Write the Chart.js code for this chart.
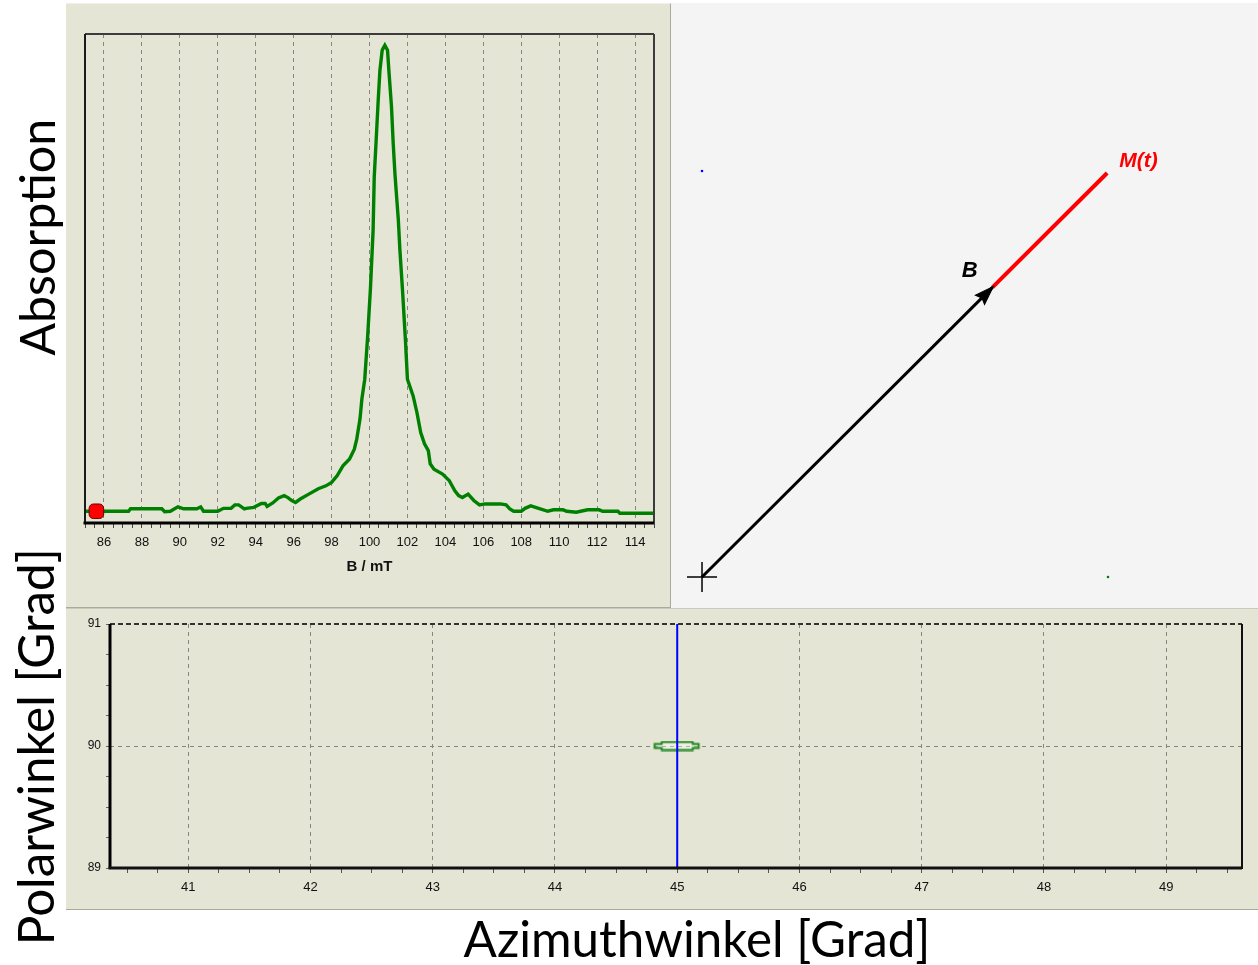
<!DOCTYPE html>
<html>
<head>
<meta charset="utf-8">
<script src="https://cdn.jsdelivr.net/npm/chart.js@4.4.0/dist/chart.umd.min.js"></script>
<style>
  html, body { margin:0; padding:0; background:#ffffff; width:1258px; height:965px; overflow:hidden; }
  body { position:relative; font-family:"Liberation Sans", Arial, sans-serif; }
  .panel { position:absolute; box-sizing:border-box; }
  #panelSpec { left:66px; top:3px; width:605px; height:605px; background:#e5e5d6; border-right:1px solid #a9a99d; border-bottom:1px solid #a9a99d; border-top:1px solid #f0f0ea; }
  #panelVec  { left:671px; top:3px; width:587px; height:606px; background:#f4f4f4; }
  #panelAng  { left:66px; top:608px; width:1192px; height:302px; background:#e5e5d6; border-top:1px solid #c9c9bd; border-bottom:1px solid #a9a99d; }
  canvas { position:absolute; }
  #cSpec { left:66px; top:3px; }
  #cVec  { left:671px; top:3px; }
  #cAng  { left:66px; top:609px; }
  .big { position:absolute; font-family:Lato, "Open Sans", sans-serif; color:#000; white-space:nowrap; line-height:1; }
</style>
</head>
<body>
<div class="panel" id="panelSpec"></div>
<div class="panel" id="panelVec"></div>
<div class="panel" id="panelAng"></div>
<canvas id="cSpec" width="604" height="604"></canvas>
<canvas id="cVec" width="587" height="606"></canvas>
<canvas id="cAng" width="1192" height="301"></canvas>
<div class="big" id="lblAbs">Absorption</div>
<div class="big" id="lblPol">Polarwinkel [Grad]</div>
<div class="big" id="lblAzi">Azimuthwinkel [Grad]</div>
<script>
// ================= DATA =================
// Absorption spectrum: magnetic field B (mT) and normalized absorption
const fieldB = [
  85.0, 85.6, 86.7, 87.3, 87.4, 89.05, 89.2, 89.5, 89.9, 90.2,
  90.9, 91.1, 91.25, 92.0, 92.3, 92.7, 92.9, 93.1, 93.4, 93.5,
  93.9, 94.3, 94.5, 94.6, 94.9, 95.2, 95.5, 95.7, 95.9, 96.1,
  96.35, 96.8, 97.3, 97.7, 98.0, 98.3, 98.6, 98.95, 99.2, 99.33,
  99.5, 99.6, 99.75, 99.9, 100.05, 100.19, 100.25, 100.37, 100.46, 100.55,
  100.67, 100.81, 100.95, 101.02, 101.16, 101.25, 101.34, 101.43, 101.52, 101.6,
  101.75, 101.9, 102.0, 102.3, 102.5, 102.7, 102.9, 103.1, 103.2, 103.4,
  103.85, 104.2, 104.5, 104.7, 104.9, 105.2, 105.5, 105.8, 106.1, 106.9,
  107.2, 107.4, 107.6, 108.0, 108.2, 108.5, 109.0, 109.4, 109.7, 110.2,
  110.4, 110.9, 111.5, 112.1, 112.3, 113.1, 113.2, 115.0
];
const absorption = [
  0.024, 0.024, 0.024, 0.024, 0.029, 0.029, 0.023, 0.024, 0.033, 0.029,
  0.029, 0.033, 0.024, 0.024, 0.030, 0.030, 0.037, 0.037, 0.029, 0.030,
  0.032, 0.040, 0.040, 0.034, 0.041, 0.051, 0.056, 0.052, 0.046, 0.042,
  0.049, 0.059, 0.070, 0.076, 0.083, 0.097, 0.117, 0.131, 0.151, 0.172,
  0.213, 0.254, 0.294, 0.380, 0.480, 0.599, 0.708, 0.797, 0.865, 0.926,
  0.967, 0.977, 0.967, 0.926, 0.851, 0.776, 0.715, 0.667, 0.620, 0.560,
  0.470, 0.370, 0.294, 0.260, 0.226, 0.185, 0.162, 0.148, 0.121, 0.110,
  0.100, 0.087, 0.066, 0.056, 0.052, 0.059, 0.046, 0.037, 0.039, 0.039,
  0.037, 0.029, 0.024, 0.024, 0.030, 0.035, 0.029, 0.024, 0.027, 0.027,
  0.024, 0.022, 0.027, 0.027, 0.024, 0.024, 0.020, 0.020
];
// current sweep position marker
const markerB = [85.6];
const markerAbs = [0.024];
// spectrum axis
const fieldRange = [85, 115];
const fieldLabelStep = 2;
const fieldMinorStep = 0.5;

// Vector view (projected, arbitrary units)
const vectorOrigin = [0, 0];
const vectorB = [0.716, 0.714];
const vectorM = [0.998, 0.995];
const refPointBlue = [0, 1];
const refPointGreen = [1, 0];

// Angle view
const azimuthCurrent = [45];
const polarCurrent = [90];
const azimuthRange = [40.36, 49.62];
const polarRange = [89, 91];
const angleMinorStep = 0.25;

// ================= PLUGINS =================
const framePlugin = {
  id: 'frame',
  afterDatasetsDraw(chart, args, opts) {
    if (!opts || !opts.sides) return;
    const { ctx, chartArea: a } = chart;
    ctx.save();
    opts.sides.forEach(s => {
      ctx.beginPath();
      ctx.strokeStyle = s.color;
      ctx.lineWidth = s.width;
      ctx.setLineDash(s.dash || []);
      if (s.side === 'top') { ctx.moveTo(a.left, a.top); ctx.lineTo(a.right, a.top); }
      if (s.side === 'bottom') { ctx.moveTo(a.left - s.width/2, a.bottom); ctx.lineTo(a.right, a.bottom); }
      if (s.side === 'left') { ctx.moveTo(a.left, a.top); ctx.lineTo(a.left, a.bottom); }
      if (s.side === 'right') { ctx.moveTo(a.right, a.top); ctx.lineTo(a.right, a.bottom + s.width/2); }
      ctx.stroke();
    });
    ctx.restore();
  }
};

const arrowPlugin = {
  id: 'arrowHead',
  afterDatasetsDraw(chart, args, opts) {
    if (!opts || opts.datasetIndex === undefined) return;
    const meta = chart.getDatasetMeta(opts.datasetIndex);
    const pts = meta.data;
    if (pts.length < 2) return;
    const p1 = pts[pts.length - 2], p2 = pts[pts.length - 1];
    const ang = Math.atan2(p2.y - p1.y, p2.x - p1.x);
    const L = opts.length, W = opts.width;
    const ctx = chart.ctx;
    ctx.save();
    ctx.translate(p2.x, p2.y);
    ctx.rotate(ang);
    ctx.beginPath();
    ctx.moveTo(1, 0);
    ctx.lineTo(-L, -W);
    ctx.lineTo(-L * 0.85, 0);
    ctx.lineTo(-L, W);
    ctx.closePath();
    ctx.fillStyle = opts.color;
    ctx.fill();
    ctx.lineWidth = 1;
    ctx.strokeStyle = opts.color;
    ctx.stroke();
    ctx.restore();
  }
};

const vecLabelPlugin = {
  id: 'vecLabels',
  afterDatasetsDraw(chart, args, opts) {
    if (!opts || !opts.items) return;
    const ctx = chart.ctx;
    const xs = chart.scales.x, ys = chart.scales.y;
    ctx.save();
    opts.items.forEach(it => {
      const px = xs.getPixelForValue(it.at[0]) + it.dx;
      const py = ys.getPixelForValue(it.at[1]) + it.dy;
      ctx.font = it.font;
      ctx.fillStyle = it.color;
      ctx.textAlign = it.align;
      ctx.textBaseline = 'middle';
      ctx.fillText(it.text, px, py);
    });
    ctx.restore();
  }
};

const near = (a, b) => Math.abs(a - b) < 1e-6;
const isMultiple = (v, step) => near(v / step, Math.round(v / step));

// ================= SPECTRUM CHART =================
new Chart(document.getElementById('cSpec'), {
  type: 'scatter',
  data: {
    datasets: [
      {
        data: markerB.map((b, i) => ({ x: b, y: markerAbs[i] })),
        showLine: false,
        pointStyle: 'rectRounded',
        pointRadius: 8.5,
        backgroundColor: '#ff0000',
        borderColor: '#6a0000',
        borderWidth: 1
      },
      {
        data: fieldB.map((b, i) => ({ x: b, y: absorption[i] })),
        showLine: true,
        borderColor: '#008000',
        borderWidth: 3.4,
        pointRadius: 0,
        tension: 0,
        fill: false
      }
    ]
  },
  options: {
    responsive: false,
    animation: false,
    devicePixelRatio: 1,
    layout: { autoPadding: false, padding: { left: 19, top: 31, right: 16, bottom: 0 } },
    plugins: {
      legend: { display: false },
      tooltip: { enabled: false },
      frame: { sides: [
        { side: 'top', color: '#3c3c3c', width: 2 },
        { side: 'right', color: '#3c3c3c', width: 2 },
        { side: 'left', color: '#1a1a1a', width: 2 },
        { side: 'bottom', color: '#000000', width: 3 }
      ] }
    },
    scales: {
      x: {
        type: 'linear',
        min: fieldRange[0], max: fieldRange[1],
        afterFit: s => { s.height = 84; },
        ticks: {
          stepSize: fieldMinorStep,
          autoSkip: false,
          maxRotation: 0,
          includeBounds: false,
          padding: 7,
          color: '#111',
          font: { family: '"Liberation Sans", Arial, sans-serif', size: 13 },
          callback: v => (isMultiple(v, fieldLabelStep) ? String(v) : '')
        },
        grid: {
          drawOnChartArea: true,
          color: ctx => (ctx.tick && isMultiple(ctx.tick.value, fieldLabelStep)) ? '#858585' : 'rgba(0,0,0,0)',
          lineWidth: 1,
          tickColor: '#444',
          tickLength: 5,
          tickWidth: 1,
          tickBorderDash: []
        },
        border: { display: false, dash: [4, 4] },
        title: {
          display: true,
          text: 'B / mT',
          color: '#111',
          font: { family: '"Liberation Sans", Arial, sans-serif', size: 15, weight: 'bold' },
          padding: { top: 0, bottom: 31 }
        }
      },
      y: { display: false, min: 0, max: 1 }
    }
  },
  plugins: [framePlugin]
});

// ================= VECTOR CHART =================
new Chart(document.getElementById('cVec'), {
  type: 'scatter',
  data: {
    datasets: [
      {
        data: [{ x: vectorOrigin[0], y: vectorOrigin[1] }, { x: vectorB[0], y: vectorB[1] }],
        showLine: true, borderColor: '#000000', borderWidth: 3, pointRadius: 0
      },
      {
        data: [{ x: vectorB[0], y: vectorB[1] }, { x: vectorM[0], y: vectorM[1] }],
        showLine: true, borderColor: '#ff0000', borderWidth: 4, pointRadius: 0
      },
      {
        data: [{ x: vectorOrigin[0], y: vectorOrigin[1] }],
        pointStyle: 'cross', pointRadius: 15, borderColor: '#000000', borderWidth: 1.5
      },
      {
        data: [{ x: refPointBlue[0], y: refPointBlue[1] }],
        pointStyle: 'rect', pointRadius: 1.6, backgroundColor: '#0000ff', borderColor: '#0000ff', borderWidth: 0
      },
      {
        data: [{ x: refPointGreen[0], y: refPointGreen[1] }],
        pointStyle: 'rect', pointRadius: 1.6, backgroundColor: '#008000', borderColor: '#008000', borderWidth: 0
      }
    ]
  },
  options: {
    responsive: false,
    animation: false,
    devicePixelRatio: 1,
    layout: { autoPadding: false, padding: 0 },
    plugins: {
      legend: { display: false },
      tooltip: { enabled: false },
      arrowHead: { datasetIndex: 0, length: 18, width: 6.5, color: '#000000' },
      vecLabels: { items: [
        { text: 'B', at: vectorB, dx: -23, dy: -16, align: 'center', color: '#000000', font: 'italic bold 22px "Liberation Sans", Arial, sans-serif' },
        { text: 'M(t)', at: vectorM, dx: 12, dy: -12, align: 'left', color: '#ff0000', font: 'italic bold 21px "Liberation Sans", Arial, sans-serif' }
      ] }
    },
    scales: {
      x: { type: 'linear', display: false, min: -0.0764, max: 1.3695 },
      y: { type: 'linear', display: false, min: -0.0788, max: 1.4138 }
    }
  },
  plugins: [arrowPlugin, vecLabelPlugin]
});

// ================= ANGLE CHART =================
const markerCanvas = (() => {
  const c = document.createElement('canvas');
  c.width = 48; c.height = 11;
  const g = c.getContext('2d');
  g.beginPath();
  g.moveTo(1.5, 3.5); g.lineTo(8.5, 3.5); g.lineTo(8.5, 1.5); g.lineTo(39.5, 1.5); g.lineTo(39.5, 3.5);
  g.lineTo(45.5, 3.5); g.lineTo(45.5, 7.5); g.lineTo(39.5, 7.5); g.lineTo(39.5, 9.5); g.lineTo(8.5, 9.5);
  g.lineTo(8.5, 7.5); g.lineTo(1.5, 7.5); g.closePath();
  g.fillStyle = 'rgba(255,255,255,0.35)';
  g.fill();
  g.strokeStyle = '#1a851a';
  g.lineWidth = 1.8;
  g.stroke();
  return c;
})();

new Chart(document.getElementById('cAng'), {
  type: 'scatter',
  data: {
    datasets: [
      {
        data: [{ x: azimuthCurrent[0], y: polarRange[0] }, { x: azimuthCurrent[0], y: polarRange[1] }],
        showLine: true, borderColor: '#0000ff', borderWidth: 2, pointRadius: 0
      },
      {
        data: azimuthCurrent.map((a, i) => ({ x: a, y: polarCurrent[i] })),
        pointStyle: markerCanvas, pointRadius: 5
      }
    ]
  },
  options: {
    responsive: false,
    animation: false,
    devicePixelRatio: 1,
    layout: { autoPadding: false, padding: { left: 0, top: 15, right: 16, bottom: 0 } },
    plugins: {
      legend: { display: false },
      tooltip: { enabled: false },
      frame: { sides: [
        { side: 'top', color: '#333333', width: 2, dash: [5, 3] },
        { side: 'right', color: '#111111', width: 2 },
        { side: 'left', color: '#000000', width: 3 },
        { side: 'bottom', color: '#111111', width: 3 }
      ] }
    },
    scales: {
      x: {
        type: 'linear',
        min: azimuthRange[0], max: azimuthRange[1],
        afterFit: s => { s.height = 42; },
        ticks: {
          stepSize: angleMinorStep,
          autoSkip: false,
          maxRotation: 0,
          includeBounds: false,
          padding: 7,
          color: '#111',
          font: { family: '"Liberation Sans", Arial, sans-serif', size: 13 },
          callback: v => (isMultiple(v, 1) ? String(v) : '')
        },
        grid: {
          color: ctx => (ctx.tick && isMultiple(ctx.tick.value, 1)) ? '#858585' : 'rgba(0,0,0,0)',
          lineWidth: 1,
          tickColor: '#555',
          tickLength: 5,
          tickWidth: 1,
          tickBorderDash: []
        },
        border: { display: false, dash: [4, 4] }
      },
      y: {
        type: 'linear',
        min: polarRange[0], max: polarRange[1],
        afterFit: s => { s.width = 44; },
        ticks: {
          stepSize: angleMinorStep,
          autoSkip: false,
          padding: 5,
          color: '#111',
          font: { family: '"Liberation Sans", Arial, sans-serif', size: 12 },
          callback: v => (isMultiple(v, 1) ? String(v) : '')
        },
        grid: {
          color: ctx => (ctx.tick && near(ctx.tick.value, polarCurrent[0])) ? '#858585' : 'rgba(0,0,0,0)',
          lineWidth: 1,
          tickColor: '#666',
          tickLength: 4,
          tickWidth: 1,
          tickBorderDash: []
        },
        border: { display: false, dash: [4, 4] }
      }
    }
  },
  plugins: [framePlugin]
});

// ================= BIG AXIS LABELS (fit to target widths) =================
function fitLabel(id, targetLen, cx, cy, rotate) {
  const el = document.getElementById(id);
  el.style.fontSize = '50px';
  const w = el.getBoundingClientRect().width;
  const fs = 50 * targetLen / w;
  el.style.fontSize = fs.toFixed(2) + 'px';
  const r = el.getBoundingClientRect();
  el.style.left = (cx - r.width / 2) + 'px';
  el.style.top = (cy - r.height / 2) + 'px';
  if (rotate) {
    el.style.transformOrigin = '50% 50%';
    el.style.transform = 'rotate(-90deg)';
  }
}
function run() {
  fitLabel('lblAzi', 467, 697, 939, false);
  fitLabel('lblAbs', 237, 36, 237, true);
  fitLabel('lblPol', 397, 36, 747, true);
}
if (document.fonts && document.fonts.ready) { document.fonts.ready.then(run); } else { run(); }
</script>
</body>
</html>
